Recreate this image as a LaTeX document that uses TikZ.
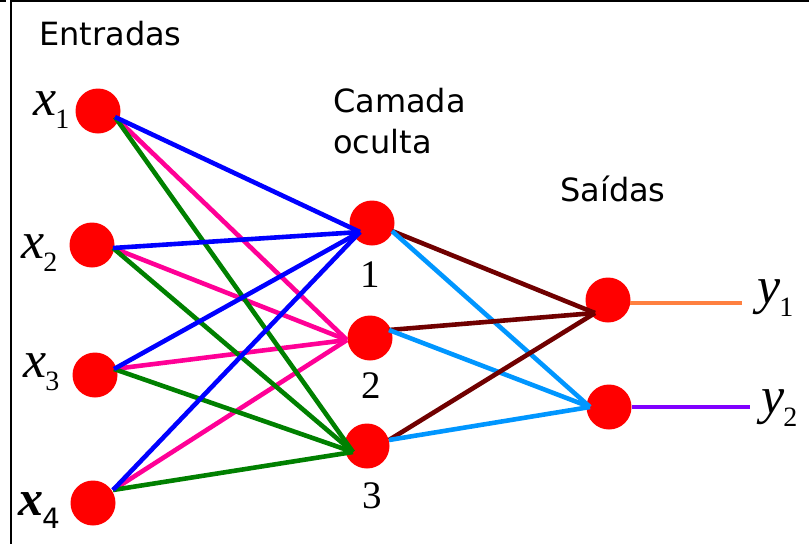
\documentclass[tikz,border=0pt]{standalone}
\usepackage{fontspec}
\setmainfont{Liberation Serif}
\newfontfamily\labelsans{DejaVu Sans}
\usetikzlibrary{calc}
\definecolor{cblue}{RGB}{0,0,255}
\definecolor{cpink}{RGB}{255,0,150}
\definecolor{cgreen}{RGB}{0,128,0}
\definecolor{cbrown}{RGB}{112,0,0}
\definecolor{clight}{RGB}{0,150,255}
\definecolor{corange}{RGB}{255,128,64}
\definecolor{cpurple}{RGB}{128,0,255}
\newcommand{\varlab}[2]{{\fontsize{52}{52}\selectfont\itshape #1}\kern-1pt\raisebox{-13pt}{\fontsize{28}{28}\selectfont #2}}
\newcommand{\varlabb}[2]{{\fontsize{50}{50}\selectfont\bfseries\itshape #1}\kern-1pt\raisebox{-13pt}{\fontsize{28}{28}\selectfont\labelsans #2}}
\begin{document}
\begin{tikzpicture}[x=1pt,y=-1pt,
  neuron/.style={circle, fill=red, minimum size=45pt, inner sep=0pt},
  conn/.style={line width=4.6pt},
  head/.style={font=\labelsans\fontsize{32}{40}\selectfont, anchor=base west, inner sep=0pt},
  varl/.style={anchor=base west, inner sep=0pt},
  digit/.style={font=\fontsize{39}{40}\selectfont, anchor=base, inner sep=0pt},
  frame/.style={line width=2.5pt, black}]
\useasboundingbox (0,0) rectangle (809,544);
% frame
\draw[frame] (10,1) -- (809,1);
\draw[frame] (0,1) -- (6,1);
\draw[frame] (11,0) -- (11,544);
% headings
\node[head] (tin) at (39,45) {Entradas};
\node[head] (thid1) at (333,112) {Camada};
\node[head] (thid2) at (333,153) {oculta};
\node[head] (tout) at (560,201) {Saídas};
% neurons
\node[neuron] (x1) at (98,111) {};
\node[neuron] (x2) at (92,245) {};
\node[neuron] (x3) at (95,375) {};
\node[neuron] (x4) at (93,503) {};
\node[neuron] (h1) at (372,223) {};
\node[neuron] (h2) at (370,338) {};
\node[neuron] (h3) at (367,446) {};
\node[neuron] (o1) at (608,300) {};
\node[neuron] (o2) at (609,407) {};
% ports
\coordinate (x1o) at ($(x1)+(17,6)$);
\coordinate (x2o) at ($(x2)+(21,3)$);
\coordinate (x3o) at ($(x3)+(19,-6)$);
\coordinate (x4o) at ($(x4)+(20,-13)$);
\coordinate (h1i) at ($(h1)+(-12,9)$);
\coordinate (h2i) at ($(h2)+(-23,2)$);
\coordinate (h3i) at ($(h3)+(-14,6)$);
\coordinate (h1o) at ($(h1)+(20,8)$);
\coordinate (h2o) at ($(h2)+(19,-8)$);
\coordinate (h3o) at ($(h3)+(22,-6)$);
\coordinate (o1i) at ($(o1)+(-13,13)$);
\coordinate (o2i) at ($(o2)+(-19,0)$);
\coordinate (o1o) at ($(o1)+(22,3)$);
\coordinate (o2o) at ($(o2)+(23,0)$);
\coordinate (y1e) at (742,303);
\coordinate (y2e) at (750,407);
% input -> hidden
\foreach \i in {1,2,3,4}{
  \draw[conn, cpink] (x\i o) -- (h2i);
}
\foreach \i in {1,2,3,4}{
  \draw[conn, cgreen] (x\i o) -- (h3i);
}
\foreach \i in {1,2,3,4}{
  \draw[conn, cblue] (x\i o) -- (h1i);
}
% hidden -> output
\foreach \i in {1,2,3}{
  \draw[conn, cbrown] (h\i o) -- (o1i);
  \draw[conn, clight] (h\i o) -- (o2i);
}
\draw[line width=3.5pt, corange] (o1o) -- (y1e);
\draw[line width=4.6pt, cpurple] (o2o) -- (y2e);
% labels
\node[varl] (lx1) at (33,115) {\varlab{x}{1}};
\node[varl] (lx2) at (21,258) {\varlab{x}{2}};
\node[varl] (lx3) at (23,377) {\varlab{x}{3}};
\node[varl] (lx4) at (18,515) {\varlabb{x}{4}};
\node[varl] (ly1) at (757,303) {\varlab{y}{1}};
\node[varl] (ly2) at (761,413) {\varlab{y}{2}};
\node[digit] (n1) at (370,287) {1};
\node[digit] (n2) at (371,398) {2};
\node[digit] (n3) at (372,508) {3};
\end{tikzpicture}
\end{document}
